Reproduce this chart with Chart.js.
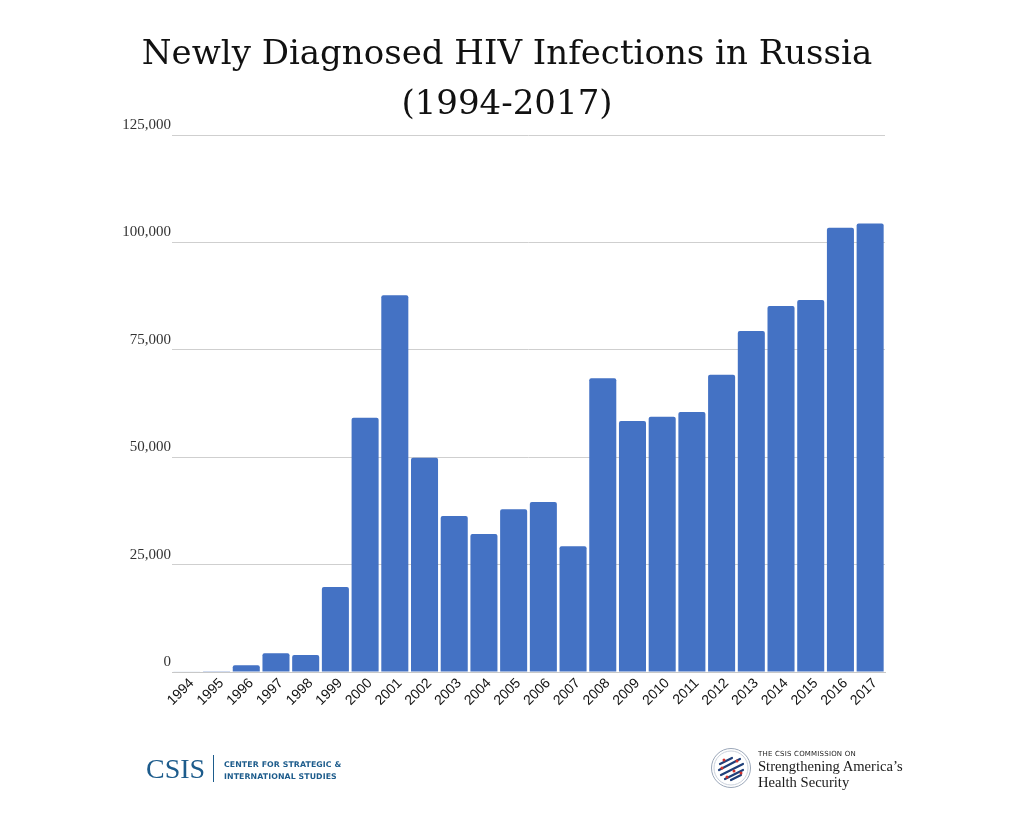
<!DOCTYPE html>
<html>
<head>
<meta charset="utf-8">
<script src="https://cdn.jsdelivr.net/npm/chart.js@4"></script>
<style>
  html, body { margin: 0; padding: 0; background: #fff; }
  #wrap { position: relative; width: 1024px; height: 816px; overflow: hidden; }
  #chart { position: absolute; left: 0; top: 0; }
  .title { position: absolute; left: 0; width: 1014px; text-align: center; font-family: "DejaVu Serif", serif; font-size: 34px; color: #111; }
  .csis { position: absolute; left: 146px; top: 753px; font-family: "Liberation Serif", serif; font-size: 28px; color: #1d5c8c; }
  .csis-bar { position: absolute; left: 213px; top: 755px; width: 1px; height: 27px; background: #1d5c8c; }
  .csis-sub { position: absolute; left: 224px; top: 759px; font-family: "DejaVu Sans", sans-serif; font-size: 7.8px; line-height: 12px; color: #1d5c8c; font-weight: bold; letter-spacing: 0.1px; }
  .comm-small { position: absolute; left: 758px; top: 750px; font-family: "DejaVu Sans", sans-serif; font-size: 7px; color: #222; letter-spacing: 0.2px; }
  .comm-big { position: absolute; left: 758px; top: 758px; font-family: "Liberation Serif", serif; font-size: 14.6px; line-height: 16px; color: #1a1a1a; }
  #logo { position: absolute; left: 710px; top: 747px; }
</style>
</head>
<body>
<div id="wrap">
  <canvas id="chart" width="1024" height="816"></canvas>
  <div class="title" style="top:32px;">Newly Diagnosed HIV Infections in Russia</div>
  <div class="title" style="top:82px;">(1994-2017)</div>

  <div class="csis">CSIS</div>
  <div class="csis-bar"></div>
  <div class="csis-sub">CENTER FOR STRATEGIC &amp;<br>INTERNATIONAL STUDIES</div>

  <svg id="logo" width="42" height="42" viewBox="0 0 42 42">
    <circle cx="21" cy="21" r="19.5" fill="none" stroke="#9aa6b8" stroke-width="1"/>
    <circle cx="21" cy="21" r="17" fill="#fff" stroke="#c9d0db" stroke-width="1"/>
    <g stroke="#1f3f7a" stroke-width="2.2" stroke-linecap="round">
      <line x1="10" y1="17" x2="22" y2="11"/>
      <line x1="9" y1="23" x2="30" y2="12"/>
      <line x1="11" y1="28" x2="33" y2="17"/>
      <line x1="15" y1="32" x2="33" y2="23"/>
      <line x1="21" y1="33" x2="31" y2="28"/>
    </g>
    <g fill="#d0312d">
      <circle cx="14" cy="13" r="1.5"/>
      <circle cx="27" cy="14" r="1.5"/>
      <circle cx="12" cy="21" r="1.5"/>
      <circle cx="24" cy="24" r="1.5"/>
      <circle cx="17" cy="30" r="1.5"/>
      <circle cx="31" cy="26" r="1.5"/>
    </g>
  </svg>
  <div class="comm-small">THE CSIS COMMISSION ON</div>
  <div class="comm-big">Strengthening America’s<br>Health Security</div>
</div>

<script>
// Dados
const years = ['1994', '1995', '1996', '1997', '1998', '1999', '2000', '2001', '2002', '2003', '2004', '2005',
  '2006', '2007', '2008', '2009', '2010', '2011', '2012', '2013', '2014', '2015', '2016', '2017'];
const newCases = [100, 200, 1550, 4350, 3950, 19800, 59200, 87700, 49900, 36300, 32100, 37900,
  39600, 29300, 68400, 58400, 59400, 60500, 69200, 79400, 85200, 86600, 103400, 104400];
const yTicks = [0, 25000, 50000, 75000, 100000, 125000];

const barColor = '#4472c4';

const ctx = document.getElementById('chart').getContext('2d');

const hivChart = new Chart(ctx, {
  type: 'bar',
  data: {
    labels: years,
    datasets: [{
      label: 'New HIV diagnoses',
      data: newCases,
      backgroundColor: barColor,
      borderRadius: { topLeft: 2, topRight: 2 },
      borderSkipped: 'bottom',
      categoryPercentage: 1.0,
      barPercentage: 0.91
    }]
  },
  options: {
    responsive: false,
    animation: false,
    devicePixelRatio: 1,
    layout: {
      padding: { left: 0, right: 139, top: 135, bottom: 68 }
    },
    plugins: {
      legend: { display: false },
      tooltip: { enabled: false }
    },
    scales: {
      x: {
        grid: { display: false, drawTicks: false },
        border: { display: true, color: '#c8c8c8', width: 1 },
        ticks: {
          color: '#111',
          font: { family: 'Liberation Sans', size: 14 },
          minRotation: 45,
          maxRotation: 45,
          padding: 3,
          labelOffset: 5,
          autoSkip: false
        },
        afterFit: (scale) => { scale.height = 76; }
      },
      y: {
        min: 0,
        max: 125000,
        afterBuildTicks: (scale) => {
          scale.ticks = yTicks.map(v => ({ value: v }));
        },
        grid: { color: '#cfcfcf', lineWidth: 1, drawTicks: false },
        border: { display: false },
        ticks: {
          color: '#333',
          font: { family: 'Liberation Serif', size: 15 },
          padding: 1,
          labelOffset: -10,
          callback: (v) => v.toLocaleString('en-US')
        },
        afterFit: (scale) => { scale.width = 172; }
      }
    }
  }
});
</script>
</body>
</html>
